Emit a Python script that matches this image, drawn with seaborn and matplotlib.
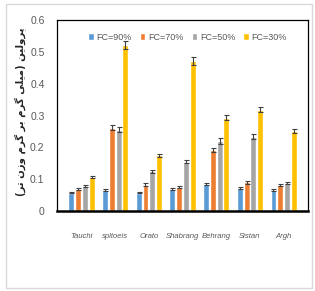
import numpy as np
import pandas as pd
import matplotlib
matplotlib.use("Agg")
import matplotlib.pyplot as plt
from matplotlib.patches import Rectangle
from matplotlib.font_manager import FontProperties
import seaborn as sns

# ---- data ----
cultivars = ["Tauchi", "spltoeis", "Orato", "Shabrang", "Behrang", "Sistan", "Argh"]
levels = ["FC=90%", "FC=70%", "FC=50%", "FC=30%"]
fc90 = [0.058, 0.065, 0.058, 0.070, 0.086, 0.073, 0.065]
fc70 = [0.068, 0.262, 0.083, 0.075, 0.192, 0.090, 0.082]
fc50 = [0.078, 0.255, 0.125, 0.155, 0.220, 0.233, 0.088]
fc30 = [0.107, 0.522, 0.175, 0.472, 0.293, 0.318, 0.252]
err90 = [0.003, 0.003, 0.003, 0.003, 0.003, 0.003, 0.003]
err70 = [0.003, 0.008, 0.004, 0.003, 0.006, 0.004, 0.004]
err50 = [0.003, 0.008, 0.005, 0.005, 0.008, 0.008, 0.004]
err30 = [0.004, 0.012, 0.005, 0.013, 0.008, 0.008, 0.006]
ylabel_fa = "پرولین (میلی گرم بر گرم وزن تر)"

colors = ["#5B9BD5", "#ED7D31", "#A5A5A5", "#FFC000"]

# ---- simple persian shaping (matplotlib has no bidi/shaping) ----
FORMS = {
    "ب": ("\uFE8F", "\uFE90", "\uFE91", "\uFE92"),
    "پ": ("\uFB56", "\uFB57", "\uFB58", "\uFB59"),
    "ت": ("\uFE95", "\uFE96", "\uFE97", "\uFE98"),
    "ر": ("\uFEAD", "\uFEAE", None, None),
    "ز": ("\uFEAF", "\uFEB0", None, None),
    "گ": ("\uFB92", "\uFB93", "\uFB94", "\uFB95"),
    "ل": ("\uFEDD", "\uFEDE", "\uFEDF", "\uFEE0"),
    "م": ("\uFEE1", "\uFEE2", "\uFEE3", "\uFEE4"),
    "ن": ("\uFEE5", "\uFEE6", "\uFEE7", "\uFEE8"),
    "و": ("\uFEED", "\uFEEE", None, None),
    "ی": ("\uFBFC", "\uFBFD", "\uFBFE", "\uFBFF"),
}


def shape_fa(s):
    out = []
    for i, ch in enumerate(s):
        if ch not in FORMS:
            out.append(ch)
            continue
        prev = s[i - 1] if i > 0 else ""
        nxt = s[i + 1] if i + 1 < len(s) else ""
        jp = prev in FORMS and FORMS[prev][2] is not None
        jn = FORMS[ch][2] is not None and nxt in FORMS
        f = FORMS[ch]
        if jp and jn:
            out.append(f[3])
        elif jp:
            out.append(f[1])
        elif jn:
            out.append(f[2])
        else:
            out.append(f[0])
    vis = "".join(reversed(out))
    return vis.translate(str.maketrans("()", ")("))


df = pd.DataFrame({
    "cultivar": cultivars * 4,
    "level": np.repeat(levels, len(cultivars)),
    "value": fc90 + fc70 + fc50 + fc30,
})
errs = [err90, err70, err50, err30]

sns.set_style("white")
plt.rcParams["font.family"] = ["DejaVu Sans"]

fp_y = FontProperties(family="Liberation Sans", size=7.5)
fp_leg = FontProperties(family="Liberation Sans", size=6.5)
fp_x = FontProperties(family="Liberation Sans", style="italic", size=5.6)

fig = plt.figure(figsize=(3.15, 2.91), dpi=100)
ax = fig.add_axes([0.181, 0.275, 0.797, 0.656])

sns.barplot(data=df, x="cultivar", y="value", hue="level", order=cultivars,
            hue_order=levels, palette=colors, width=0.8, gap=0.12,
            errorbar=None, saturation=1, ax=ax)

for cont, e in zip(ax.containers, errs):
    xs = [p.get_x() + p.get_width() / 2 for p in cont.patches]
    ys = [p.get_height() for p in cont.patches]
    ax.errorbar(xs, ys, yerr=e, fmt="none", ecolor="#404040",
                elinewidth=0.8, capsize=1.8, capthick=0.8)

ax.set_ylim(0, 0.6)
ax.set_yticks([0, 0.1, 0.2, 0.3, 0.4, 0.5, 0.6])
ax.set_yticklabels(["0", "0.1", "0.2", "0.3", "0.4", "0.5", "0.6"],
                   fontproperties=fp_y)
ax.tick_params(axis="y", labelcolor="#595959", length=0, pad=9)
ax.tick_params(axis="x", labelcolor="#595959", length=0, pad=16)
ax.set_xticks(range(len(cultivars)))
ax.set_xticklabels(cultivars, fontproperties=fp_x)
ax.set_xlabel("")
ax.set_ylabel(shape_fa(ylabel_fa), fontsize=7.3, color="#262626",
              fontweight="bold")
ax.yaxis.set_label_coords(-0.125, 0.52)

for s in ["top", "left", "right"]:
    ax.spines[s].set_color("black")
    ax.spines[s].set_linewidth(0.9)
ax.spines["bottom"].set_color("black")
ax.spines["bottom"].set_linewidth(1.8)

leg = ax.legend(loc="upper center", bbox_to_anchor=(0.52, 0.975), ncol=4,
                frameon=False, prop=fp_leg,
                handlelength=0.6, handleheight=0.8, handletextpad=0.3,
                columnspacing=0.9)
for t in leg.get_texts():
    t.set_color("#595959")

fig.patches.append(Rectangle((0.019, 0.010), 0.972, 0.976,
                             transform=fig.transFigure, fill=False,
                             edgecolor="#d9d9d9", linewidth=1))

fig.savefig("out.png", dpi=100)
